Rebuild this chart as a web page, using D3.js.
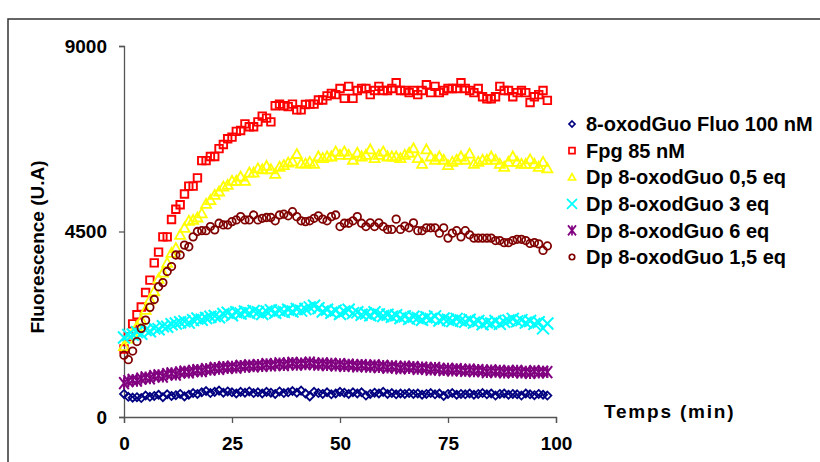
<!DOCTYPE html>
<html>
<head>
<meta charset="utf-8">
<script src="https://cdn.jsdelivr.net/npm/d3@7/dist/d3.min.js"></script>
<style>
  html, body { margin: 0; padding: 0; background: #fff; }
  svg { display: block; font-family: "Liberation Sans", Arial, sans-serif; }
</style>
</head>
<body>
<svg id="chart" width="820" height="462"></svg>
<script>
// ---------- DATA ----------
const times = d3.range(0, 99); // minutes 0..98
const xTickValues = [0, 25, 50, 75, 100];
const yTickValues = [0, 4500, 9000];
const xTitle = "Temps (min)";
const yTitle = "Fluorescence (U.A)";

const seriesNames = [
  "8-oxodGuo Fluo 100 nM",
  "Fpg 85 nM",
  "Dp 8-oxodGuo 0,5 eq",
  "Dp 8-oxodGuo 3 eq",
  "Dp 8-oxodGuo 6 eq",
  "Dp 8-oxodGuo 1,5 eq"
];

const fluo = [560,490,470,480,460,520,490,510,540,480,550,510,530,560,500,540,580,560,600,630,
  580,610,640,590,620,600,570,610,590,620,580,600,570,610,590,560,620,580,600,630,
  590,640,570,500,610,580,560,600,550,570,610,590,560,600,570,600,520,560,590,570,
  610,560,580,550,570,560,580,560,570,540,560,580,550,570,510,560,580,540,560,550,
  570,540,560,580,550,570,520,560,570,540,560,550,520,570,550,530,560,540,520];

const fpg = [1650,1950,2260,2480,2670,3020,3320,3740,4000,4370,4370,4790,5040,5150,5410,5600,5600,5800,6220,6220,
  6320,6320,6510,6610,6750,6790,6930,6950,7110,7040,7040,7160,7300,7250,7160,7550,7590,7550,7530,7590,
  7450,7450,7580,7590,7590,7690,7690,7790,7850,7820,7970,7730,8020,7730,7920,7970,7970,7820,7920,8020,
  7920,7920,7970,8110,7920,7920,7870,7920,7820,7920,8060,7870,8020,7870,7920,7970,7970,7970,8110,7970,
  7920,7870,7970,7770,7720,7720,7770,8020,7920,7920,7770,7870,7920,7870,7630,7770,7820,7920,7680];

const dp05 = [1720,1900,2050,2200,2350,2600,2850,3050,3350,3500,3740,3980,4100,4420,4590,4760,4780,4840,4940,5170,
  5260,5390,5470,5590,5630,5730,5730,5830,5730,5930,5930,6030,6010,6090,6010,5900,6070,6110,6170,6200,
  6380,6150,6150,6190,6140,6320,6280,6320,6320,6440,6360,6440,6360,6240,6410,6320,6360,6490,6280,6360,
  6440,6320,6320,6320,6280,6360,6410,6520,6280,6140,6490,6320,6240,6320,6240,6110,6190,6240,6320,6240,
  6390,6140,6190,6240,6240,6320,6240,6140,6070,6190,6320,6190,6140,6140,6250,6140,6070,6190,6030];

const dp3 = [1930,1990,2000,2060,2020,2110,2080,2150,2130,2200,2190,2250,2270,2300,2320,2290,2350,2390,2360,2400,
  2430,2450,2420,2500,2530,2470,2540,2510,2560,2520,2570,2540,2500,2560,2590,2530,2580,2550,2600,2560,
  2620,2580,2620,2660,2700,2640,2560,2600,2530,2580,2500,2560,2600,2520,2540,2480,2510,2470,2540,2490,
  2450,2480,2430,2470,2400,2440,2380,2430,2400,2360,2420,2380,2440,2340,2390,2360,2330,2380,2340,2310,
  2360,2290,2330,2250,2300,2270,2330,2260,2310,2340,2380,2320,2350,2290,2330,2260,2300,2150,2270];

const dp6 = [820,870,900,880,930,960,940,990,1010,980,1040,1060,1030,1080,1100,1080,1120,1140,1110,1160,
  1150,1190,1170,1210,1190,1220,1200,1240,1220,1250,1230,1260,1240,1280,1250,1270,1300,1260,1290,1310,
  1270,1300,1280,1320,1290,1270,1300,1260,1290,1250,1280,1240,1270,1250,1230,1260,1240,1220,1250,1210,
  1240,1200,1230,1210,1180,1220,1190,1210,1170,1200,1180,1150,1190,1160,1140,1170,1130,1160,1140,1120,
  1150,1110,1140,1120,1090,1130,1100,1120,1080,1110,1090,1120,1080,1100,1070,1110,1080,1100,1090];

const dp15 = [1500,1390,1600,1830,2150,2350,2660,2850,3160,3260,3530,3650,3930,3930,4170,4130,4370,4500,4520,4520,
  4620,4540,4700,4660,4660,4740,4780,4860,4780,4780,4900,4780,4820,4840,4840,4760,4900,4920,4880,4980,
  4860,4760,4740,4760,4820,4880,4800,4760,4860,4900,4620,4700,4700,4760,4860,4700,4620,4710,4620,4710,
  4620,4550,4550,4800,4550,4630,4590,4710,4520,4520,4590,4590,4590,4460,4590,4340,4460,4520,4370,4520,
  4420,4340,4340,4340,4340,4340,4280,4280,4230,4230,4280,4310,4310,4280,4210,4230,4200,4040,4150];

const seriesValues = [fluo, fpg, dp05, dp3, dp6, dp15];
const seriesColors = ["#000080", "#FF0000", "#FFFF00", "#00FFFF", "#800080", "#800000"];
const seriesMarkers = ["diamond", "square", "triangle", "x", "star", "circle"];

// ---------- LAYOUT ----------
const svg = d3.select("#chart");
const x = d3.scaleLinear().domain([0, 100]).range([124, 556]);
const y = d3.scaleLinear().domain([0, 9000]).range([417, 46]);

// outer frame
svg.append("rect")
  .attr("x", 8).attr("y", 19).attr("width", 830).attr("height", 460)
  .attr("fill", "none").attr("stroke", "#333").attr("stroke-width", 1.5);

function markerPath(type, s) {
  const h = s / 2;
  switch (type) {
    case "diamond": return `M0,${-h}L${h},0L0,${h}L${-h},0Z`;
    case "square": return `M${-h},${-h}H${h}V${h}H${-h}Z`;
    case "triangle": return `M0,${-h}L${h},${h*0.8}L${-h},${h*0.8}Z`;
    case "x": return `M${-h},${-h}L${h},${h}M${-h},${h}L${h},${-h}`;
    case "star": return `M${-h*0.8},${-h}L${h*0.8},${h}M${-h*0.8},${h}L${h*0.8},${-h}M0,${-h}L0,${h}`;
    case "circle": return d3.arc()({innerRadius:0, outerRadius:h, startAngle:0, endAngle:2*Math.PI});
  }
}
const markerSize = {diamond: 8, square: 7.5, triangle: 10, x: 12, star: 12, circle: 7.5};
const markerStroke = {diamond: 1.8, square: 1.9, triangle: 1.8, x: 2, star: 2, circle: 1.8};
const legendSize = {diamond: 6, square: 6, triangle: 7, x: 10, star: 10, circle: 5.5};

// axes
const yAxis = d3.axisLeft(y).tickValues(yTickValues).tickSize(5).tickPadding(12).tickFormat(d3.format("d"));
const xAxis = d3.axisBottom(x).tickValues(xTickValues).tickSize(6).tickPadding(14).tickFormat(d3.format("d"));

const gy = svg.append("g").attr("transform", `translate(${x(0)},0)`).call(yAxis);
const gx = svg.append("g").attr("transform", `translate(0,${y(0)})`).call(xAxis);
[gx, gy].forEach(g => {
  g.select(".domain").attr("stroke", "#555").attr("stroke-width", 1.3);
  g.selectAll(".tick line").attr("stroke", "#555").attr("stroke-width", 1.3);
  g.selectAll(".tick text").attr("fill", "#000").attr("font-size", 19).attr("font-weight", "bold")
    .attr("font-family", "'Liberation Sans', Arial, sans-serif");
});

// series
seriesValues.forEach((vals, i) => {
  const type = seriesMarkers[i];
  svg.append("g").selectAll("path")
    .data(vals)
    .join("path")
    .attr("transform", (d, j) => `translate(${x(times[j])},${y(d)})`)
    .attr("d", markerPath(type, markerSize[type]))
    .attr("fill", "none")
    .attr("stroke", seriesColors[i])
    .attr("stroke-width", markerStroke[type]);
});

// legend
const legend = svg.append("g");
seriesNames.forEach((name, i) => {
  const ly = 124 + i * 26.6;
  const type = seriesMarkers[i];
  legend.append("path")
    .attr("transform", `translate(572,${ly})`)
    .attr("d", markerPath(type, legendSize[type]))
    .attr("fill", "none").attr("stroke", seriesColors[i]).attr("stroke-width", 1.7);
  legend.append("text")
    .attr("x", 586).attr("y", ly).attr("dy", "0.36em")
    .attr("font-size", 20).attr("font-weight", "bold").attr("fill", "#000")
    .text(name);
});

// axis titles
svg.append("text")
  .attr("x", 604).attr("y", 418)
  .attr("font-size", 19).attr("font-weight", "bold").attr("letter-spacing", "1.8px")
  .text(xTitle);

svg.append("text")
  .attr("transform", "translate(44,247) rotate(-90)")
  .attr("text-anchor", "middle")
  .attr("font-size", 19).attr("font-weight", "bold")
  .text(yTitle);
</script>
</body>
</html>
